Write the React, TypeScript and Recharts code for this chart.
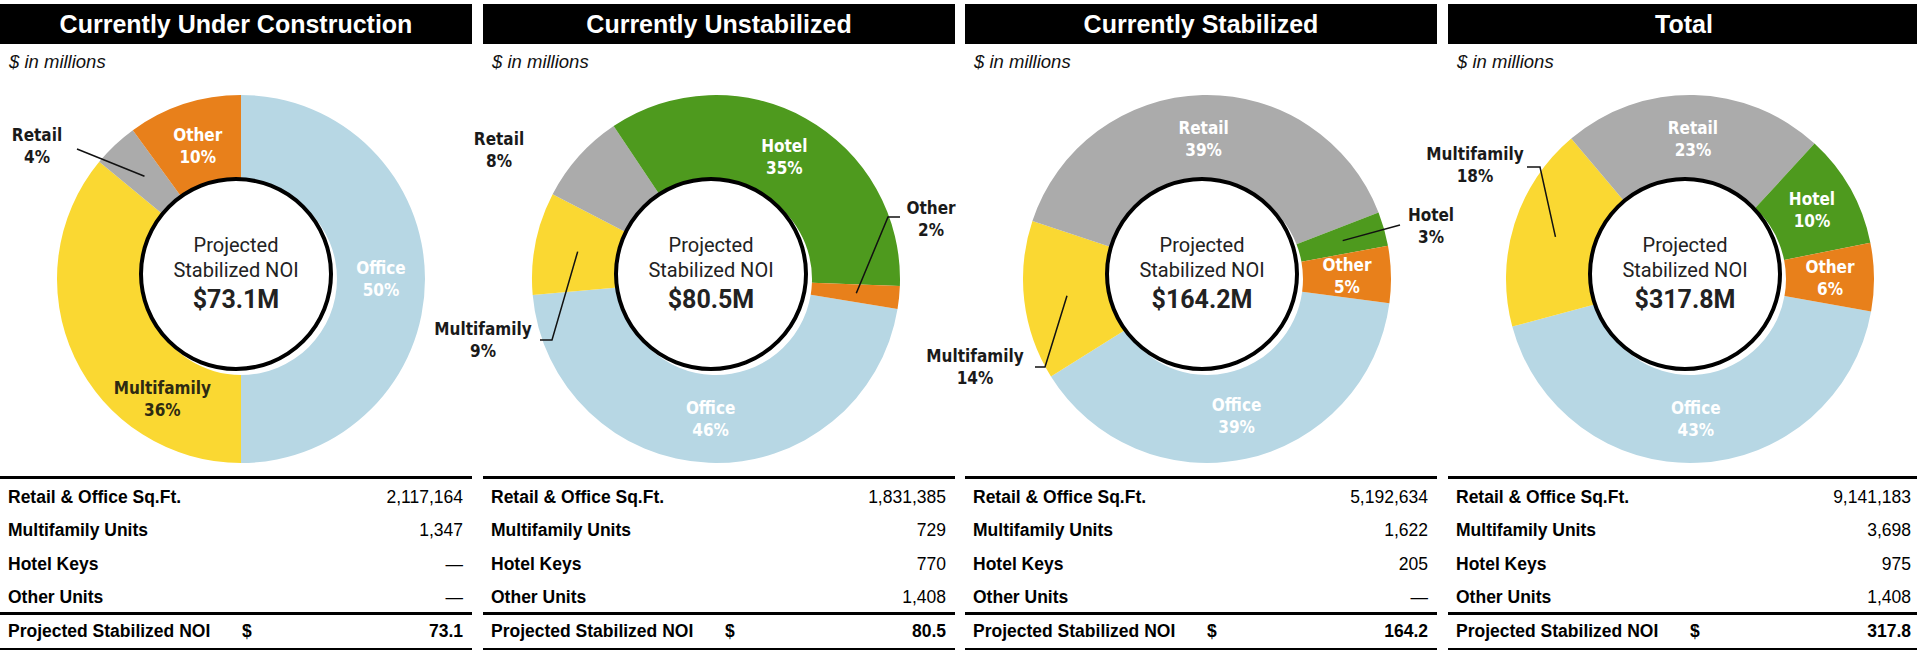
import React from 'react';
import { PieChart, Pie, Cell } from 'recharts';

// segment order, drawn clockwise
const CATEGORIES = ['Office', 'Multifamily', 'Retail', 'Hotel', 'Other'];
const COLORS: Record<string, string> = {
  Office: '#B7D7E4',
  Multifamily: '#FAD832',
  Retail: '#ABABAB',
  Hotel: '#4E9A1E',
  Other: '#E8801B',
};

const TITLES = ['Currently Under Construction', 'Currently Unstabilized', 'Currently Stabilized', 'Total'];

// share of projected stabilized NOI, %
const SHARE_UNDER_CONSTRUCTION = [50, 36, 4, 0, 10];
const SHARE_UNSTABILIZED = [46, 9, 8, 35, 2];
const SHARE_STABILIZED = [39, 14, 39, 3, 5];
const SHARE_TOTAL = [43, 18, 23, 10, 6];

const NOI = ['73.1', '80.5', '164.2', '317.8'];
const SQFT = ['2,117,164', '1,831,385', '5,192,634', '9,141,183'];
const MF_UNITS = ['1,347', '729', '1,622', '3,698'];
const HOTEL_KEYS = ['—', '770', '205', '975'];
const OTHER_UNITS = ['—', '1,408', '—', '1,408'];

const SHARES = [SHARE_UNDER_CONSTRUCTION, SHARE_UNSTABILIZED, SHARE_STABILIZED, SHARE_TOTAL];

// layout
const PANEL_X = [0, 483, 965, 1448];
const PANEL_W = 470;
const PIE_CX = [236, 228, 237, 237];
const CHART_TOP = 80;
const CHART_H = 390;
const CHART_PAD = 50; // svg extends past the panel so outside labels are not clipped
const PIE_CY = 194;
const OUTER_R = 184;
const INNER_R = 96;
// where the Office slice starts, degrees clockwise from 12 o'clock
const OFFICE_START = [0, 99.4, 97.6, 100.2];

type LabelSpec = { at?: number[]; line?: number[][]; nudge?: number[]; dark?: boolean };
const LABEL_SPECS: Record<string, LabelSpec>[] = [
  { Retail: { at: [-204, -133], line: [[-164, -130]] }, Multifamily: { nudge: [48, 60], dark: true } },
  {
    Other: { at: [215, -60], line: [[184, -62], [172, -62]] },
    Multifamily: { at: [-233, 61], line: [[-176, 61], [-164, 61]] },
    Retail: { at: [-217, -129] },
  },
  {
    Hotel: { at: [224, -53], line: [[193, -54]] },
    Multifamily: { at: [-232, 88], line: [[-172, 88], [-162, 88]] },
  },
  { Multifamily: { at: [-215, -114], line: [[-163, -112], [-150, -112]] } },
];

const LABEL_FONT = '"DejaVu Sans Condensed", "DejaVu Sans", sans-serif';
const ARIAL = '"Liberation Sans", Arial, sans-serif';
const RAD = Math.PI / 180;

function makeLabel(panel: number) {
  return (props: any) => {
    const { cx, cy, midAngle, payload, index } = props;
    const name = payload?.name ?? props.name;
    const value = payload?.value ?? props.value;
    const spec = LABEL_SPECS[panel][name] || {};
    const px = (r: number) => cx + r * Math.cos(-midAngle * RAD);
    const py = (r: number) => cy + r * Math.sin(-midAngle * RAD);

    let tx: number;
    let ty: number;
    let fill = '#FFFFFF';
    let line: React.ReactNode = null;
    if (spec.at) {
      tx = cx + spec.at[0];
      ty = cy + spec.at[1];
      fill = '#1a1a1a';
      if (spec.line) {
        const pts = spec.line.map((p) => `${cx + p[0]},${cy + p[1]}`);
        pts.push(`${px(141)},${py(141)}`);
        line = <polyline points={pts.join(' ')} fill="none" stroke="#111" strokeWidth={1.5} />;
      }
    } else {
      const r = (INNER_R + OUTER_R) / 2;
      tx = px(r) + (spec.nudge ? spec.nudge[0] : 0);
      ty = py(r) + (spec.nudge ? spec.nudge[1] : 0);
      if (spec.dark) fill = '#2e2a12';
    }
    return (
      <g key={`lbl-${index}`}>
        {line}
        <text
          x={tx}
          y={ty}
          textAnchor="middle"
          fill={fill}
          style={{ fontFamily: LABEL_FONT, fontStretch: 'condensed', fontWeight: 700, fontSize: 17 }}
        >
          <tspan x={tx} dy={-5}>{name}</tspan>
          <tspan x={tx} dy={22}>{`${value}%`}</tspan>
        </text>
      </g>
    );
  };
}

function Row({ label, value, bold, pad = 4 }: { label: string; value: string; bold?: boolean; pad?: number }) {
  return (
    <div
      style={{
        height: 33.3, boxSizing: 'border-box', paddingTop: pad, display: 'flex', alignItems: 'center',
        justifyContent: 'space-between', paddingLeft: 8, paddingRight: 9,
      }}
    >
      <span style={{ fontWeight: 700 }}>{label}</span>
      <span style={{ fontWeight: bold ? 700 : 400 }}>{value}</span>
    </div>
  );
}

function Panel({ i }: { i: number }) {
  const data = CATEGORIES.map((name, k) => ({ name, value: SHARES[i][k] })).filter((d) => d.value > 0);
  const start = 90 - OFFICE_START[i];
  const cx = PIE_CX[i];
  return (
    <div style={{ position: 'absolute', left: PANEL_X[i], top: 0, width: PANEL_W, height: 650, fontFamily: ARIAL }}>
      <div
        style={{
          position: 'absolute', left: 0, top: 4, width: PANEL_W + 2, height: 40, background: '#000', color: '#fff',
          fontWeight: 700, fontSize: 25, lineHeight: '40px', textAlign: 'center',
        }}
      >
        {TITLES[i]}
      </div>
      <div style={{ position: 'absolute', left: 9, top: 51, fontSize: 18.5, fontStyle: 'italic', color: '#111' }}>$ in millions</div>

      <div style={{ position: 'absolute', left: -CHART_PAD, top: CHART_TOP, width: PANEL_W + 2 * CHART_PAD, height: CHART_H }}>
        <PieChart width={PANEL_W + 2 * CHART_PAD} height={CHART_H}>
          <Pie
            data={data}
            dataKey="value"
            nameKey="name"
            cx={cx + CHART_PAD}
            cy={PIE_CY}
            innerRadius={INNER_R}
            outerRadius={OUTER_R}
            startAngle={start}
            endAngle={start - 360}
            stroke="none"
            isAnimationActive={false}
            labelLine={false}
            label={makeLabel(i)}
          >
            {data.map((d) => (
              <Cell key={d.name} fill={COLORS[d.name]} />
            ))}
          </Pie>
        </PieChart>
        <div
          style={{
            position: 'absolute', left: cx + CHART_PAD - 97, top: PIE_CY - 97, width: 194, height: 194, boxSizing: 'border-box',
            borderRadius: '50%', border: '4px solid #000', background: '#fff', display: 'flex', flexDirection: 'column',
            alignItems: 'center', justifyContent: 'center', fontFamily: 'Roboto, sans-serif', color: '#222', pointerEvents: 'none',
          }}
        >
          <div style={{ fontSize: 20, lineHeight: '25px' }}>Projected</div>
          <div style={{ fontSize: 20, lineHeight: '25px' }}>Stabilized NOI</div>
          <div style={{ fontSize: 25, lineHeight: '33px', fontWeight: 700 }}>{`$${NOI[i]}M`}</div>
        </div>
      </div>

      <div style={{ position: 'absolute', left: 0, top: 476, width: PANEL_W + 2, fontSize: 17.5, color: '#000', borderTop: '3px solid #000' }}>
        <Row label="Retail & Office Sq.Ft." value={SQFT[i]} />
        <Row label="Multifamily Units" value={MF_UNITS[i]} />
        <Row label="Hotel Keys" value={HOTEL_KEYS[i]} />
        <Row label="Other Units" value={OTHER_UNITS[i]} />
        <div style={{ borderTop: '3px solid #000', borderBottom: '3px solid #000', position: 'relative' }}>
          <Row label="Projected Stabilized NOI" value={NOI[i]} bold pad={0} />
          <span style={{ position: 'absolute', left: 242, top: 6, fontWeight: 700 }}>$</span>
        </div>
      </div>
    </div>
  );
}

export default function App() {
  return (
    <div style={{ position: 'absolute', left: 0, top: 0, width: 1917, height: 650, background: '#fff', overflow: 'hidden' }}>
      {TITLES.map((_, i) => (
        <Panel key={i} i={i} />
      ))}
    </div>
  );
}
